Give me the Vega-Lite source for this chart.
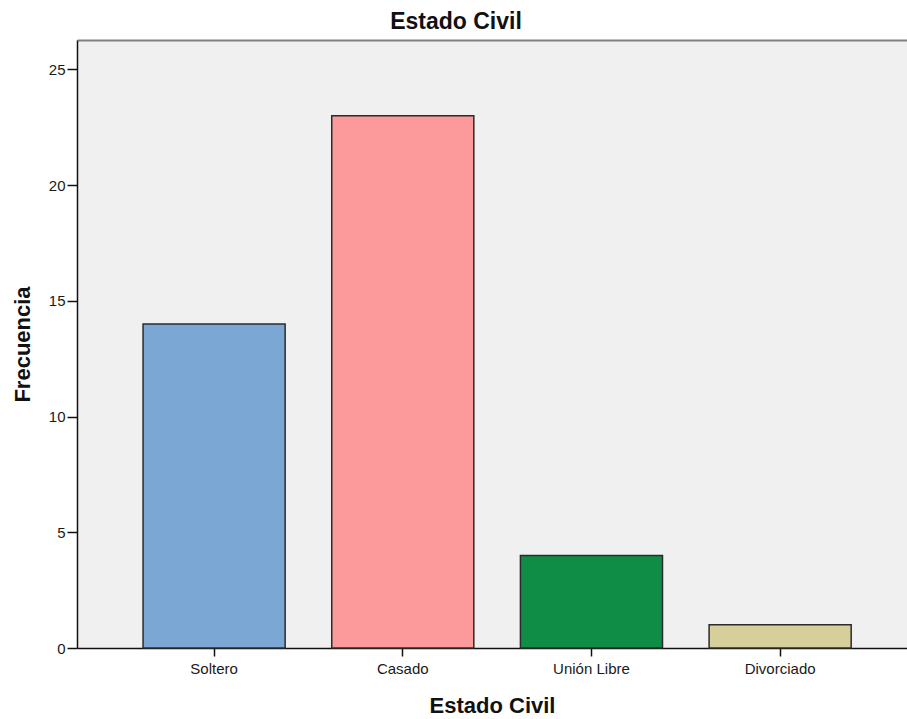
{
  "$schema": "https://vega.github.io/schema/vega-lite/v6.json",
  "autosize": {"type": "none"},
  "padding": {"left": 77, "top": 40, "right": 0, "bottom": 71},
  "width": 830,
  "height": 608,
  "background": "white",
  "config": {
    "font": "Liberation Sans",
    "view": {"fill": "#f0f0f0", "stroke": null},
    "axis": {
      "labelFont": "Liberation Sans",
      "titleFont": "Liberation Sans",
      "labelColor": "#1a1a1a",
      "titleColor": "#111111",
      "domainColor": "#111111",
      "tickColor": "#111111",
      "labelFontSize": 15,
      "titleFontSize": 22,
      "titleFontWeight": "bold"
    }
  },
  "title": {
    "text": "Estado Civil",
    "font": "Liberation Sans",
    "fontSize": 23,
    "fontWeight": "bold",
    "color": "#111111",
    "anchor": "middle",
    "dx": -36,
    "baseline": "alphabetic",
    "offset": -12
  },
  "data": {
    "values": [
      {"estado": "Soltero", "frecuencia": 14},
      {"estado": "Casado", "frecuencia": 23},
      {"estado": "Unión Libre", "frecuencia": 4},
      {"estado": "Divorciado", "frecuencia": 1}
    ]
  },
  "layer": [
    {
      "mark": {"type": "bar", "stroke": "#2b2b2b", "strokeWidth": 1.5},
      "encoding": {
        "x": {
          "field": "estado",
          "type": "nominal",
          "sort": ["Soltero", "Casado", "Unión Libre", "Divorciado"],
          "scale": {"paddingInner": 0.247, "paddingOuter": 0.323, "align": 0.542},
          "axis": {
            "title": "Estado Civil",
            "labelAngle": 0,
            "tickSize": 8,
            "labelPadding": 5,
            "titlePadding": 19,
            "domainWidth": 1.5,
            "tickWidth": 1.5
          }
        },
        "y": {
          "field": "frecuencia",
          "type": "quantitative",
          "scale": {"domain": [0, 26.27], "nice": false},
          "axis": {
            "title": "Frecuencia",
            "values": [0, 5, 10, 15, 20, 25],
            "grid": false,
            "tickSize": 10,
            "labelPadding": 2,
            "titlePadding": 14,
            "domainWidth": 1.5,
            "tickWidth": 1.5
          }
        },
        "color": {
          "field": "estado",
          "type": "nominal",
          "scale": {
            "domain": ["Soltero", "Casado", "Unión Libre", "Divorciado"],
            "range": ["#7ba7d4", "#fc999b", "#0f8c45", "#d6cf9c"]
          },
          "legend": null
        }
      }
    },
    {
      "mark": {"type": "bar", "fillOpacity": 0, "strokeOpacity": 0},
      "encoding": {
        "x": {
          "field": "estado",
          "type": "nominal",
          "sort": ["Soltero", "Casado", "Unión Libre", "Divorciado"],
          "axis": {
            "orient": "top",
            "title": null,
            "labels": false,
            "ticks": false,
            "domainColor": "#808080",
            "domainWidth": 2
          }
        },
        "y": {"field": "frecuencia", "type": "quantitative"}
      }
    }
  ],
  "resolve": {"axis": {"x": "independent"}}
}
